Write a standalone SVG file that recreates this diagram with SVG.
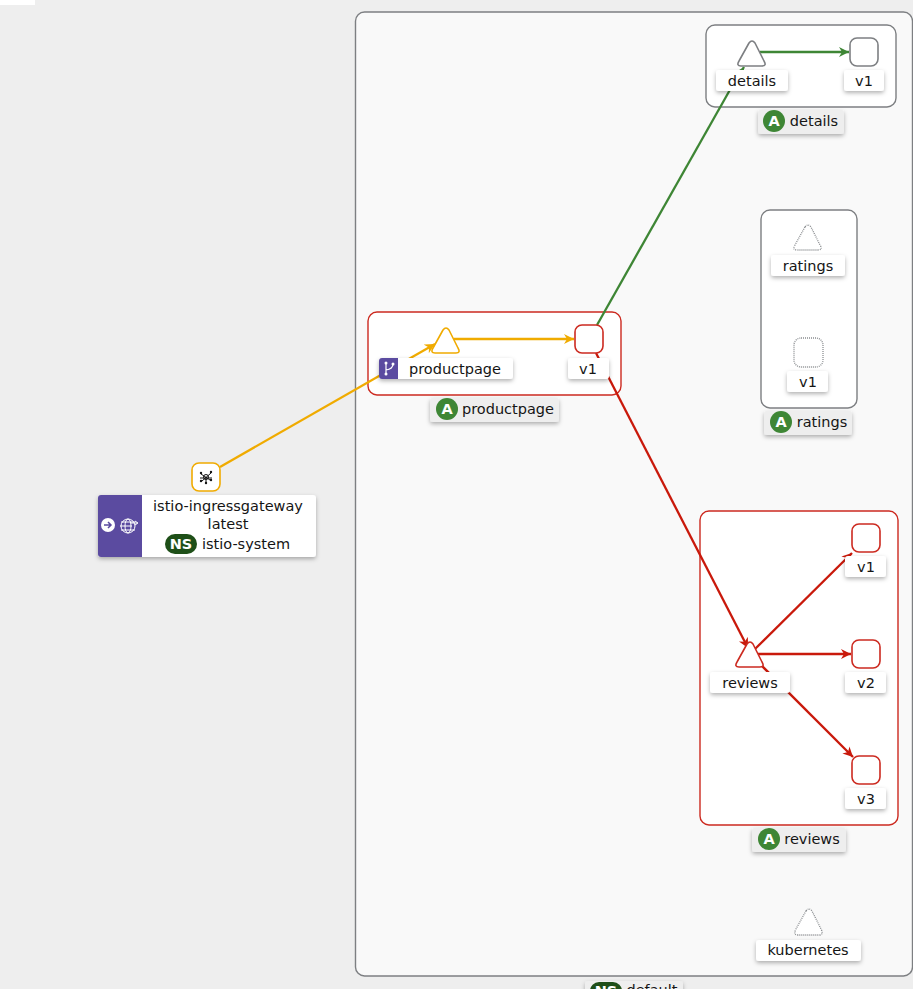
<svg xmlns="http://www.w3.org/2000/svg" width="913" height="989" viewBox="0 0 913 989">
<defs>
<style>
text{font-family:"DejaVu Sans","Liberation Sans",sans-serif;font-size:14.5px;fill:#151515;text-anchor:middle}
.grp{fill:#fff;stroke:#7d7f82;stroke-width:1.4}
.red{stroke:#cc2a20}
.lbl{fill:#fff;filter:url(#sh)}
.tag{fill:#eeeeee;filter:url(#sh)}
.n{fill:#fff;stroke:#7d7f82;stroke-width:1.6;stroke-linejoin:round}
.nr{fill:#fff;stroke:#cc2a20;stroke-width:1.6;stroke-linejoin:round}
.no{fill:#fff;stroke:#f0ab00;stroke-width:1.6;stroke-linejoin:round}
.nd{fill:#fff;stroke:#8a8d90;stroke-width:1.3;stroke-dasharray:1 1;stroke-linejoin:round}
.e{fill:none;stroke-width:2.300}
.eg{stroke:#3e8635}.er{stroke:#c9190b}.eo{stroke:#f0ab00}
.bA{fill:#3e8635}.bN{fill:#1e4f18}
.bt{fill:#fff;font-weight:bold}
</style>
<filter id="sh" x="-20%" y="-30%" width="140%" height="170%"><feDropShadow dx="0" dy="2" stdDeviation="2" flood-color="#000" flood-opacity=".3"/></filter>
<marker id="mg" markerWidth="12" markerHeight="12" refX="10" refY="5" orient="auto" markerUnits="userSpaceOnUse"><path d="M0 0L10 5L0 10L3 5Z" fill="#3e8635"/></marker>
<marker id="mr" markerWidth="12" markerHeight="12" refX="10" refY="5" orient="auto" markerUnits="userSpaceOnUse"><path d="M0 0L10 5L0 10L3 5Z" fill="#c9190b"/></marker>
<marker id="mo" markerWidth="12" markerHeight="12" refX="10" refY="5" orient="auto" markerUnits="userSpaceOnUse"><path d="M0 0L10 5L0 10L3 5Z" fill="#f0ab00"/></marker>
</defs>
<rect width="913" height="989" fill="#eeeeee"/>
<rect width="35" height="5" fill="#fff"/>
<g id="ns-default">
<rect x="355.500" y="12" width="557" height="964" rx="9" fill="#f9f9f9" stroke="#7d7f82" stroke-width="1.400"/>
<rect x="585" y="981" width="98" height="24" rx="3" class="tag"/>
<rect x="590" y="982" width="32" height="18" rx="9" class="bN"/>
<text x="606" y="996" class="bt">NS</text>
<text x="652" y="995">default</text>
</g>
<g id="app-details">
<rect x="706" y="25" width="190" height="82" rx="9" class="grp"/>
<rect x="758" y="110" width="86" height="24" rx="3" class="tag"/>
<circle cx="774" cy="121" r="11" class="bA"/><text x="774" y="126" class="bt">A</text>
<text x="814" y="126">details</text>
</g>
<g id="app-ratings">
<rect x="761" y="210" width="96" height="198" rx="9" class="grp"/>
<rect x="764" y="411" width="88" height="24" rx="3" class="tag"/>
<circle cx="781" cy="422" r="11" class="bA"/><text x="781" y="427" class="bt">A</text>
<text x="822" y="427">ratings</text>
</g>
<g id="app-productpage">
<rect x="368" y="312" width="253" height="83" rx="9" class="grp red"/>
<rect x="430" y="398" width="129" height="24" rx="3" class="tag"/>
<circle cx="447" cy="409" r="11" class="bA"/><text x="447" y="414" class="bt">A</text>
<text x="508" y="414">productpage</text>
</g>
<g id="app-reviews">
<rect x="700" y="511" width="198" height="314" rx="9" class="grp red"/>
<rect x="752" y="828" width="94" height="24" rx="3" class="tag"/>
<circle cx="769" cy="839" r="11" class="bA"/><text x="769" y="844" class="bt">A</text>
<text x="812" y="844">reviews</text>
</g>
<g id="connectors">
<path class="e eo" marker-end="url(#mo)" d="M220 467L435 344"/>
<path class="e eo" marker-end="url(#mo)" d="M454 339L574 339"/>
<path class="e eg" d="M597 325L731 88"/>
<path class="e eg" marker-end="url(#mg)" d="M731 88L744 67"/>
<path class="e eg" marker-end="url(#mg)" d="M760 52L849 52"/>
<path class="e er" marker-end="url(#mr)" d="M596 353L748 648"/>
<path class="e er" marker-end="url(#mr)" d="M755 649L852 553"/>
<path class="e er" marker-end="url(#mr)" d="M758 654L851 654"/>
<path class="e er" marker-end="url(#mr)" d="M758 662L853 757"/>
</g>
<g id="svc-details">
<path class="n" d="M749 43Q752 39 755 43L764 61Q767 66 762 66H741Q736 66 739 61Z"/>
<rect x="716" y="70" width="72" height="21" rx="3" class="lbl"/><text x="752" y="86">details</text>
</g>
<g id="wl-details-v1">
<rect x="850" y="38" width="28" height="28" rx="7" class="n"/>
<rect x="844" y="70" width="40" height="21" rx="3" class="lbl"/><text x="864" y="86">v1</text>
</g>
<g id="svc-ratings">
<path class="nd" d="M805 227Q808 223 811 227L820 245Q823 250 818 250H797Q792 250 795 245Z"/>
<rect x="771" y="255" width="74" height="21" rx="3" class="lbl"/><text x="808" y="271">ratings</text>
</g>
<g id="wl-ratings-v1">
<rect x="794" y="338" width="29" height="29" rx="7" class="nd"/>
<rect x="787" y="371" width="41" height="21" rx="3" class="lbl"/><text x="808" y="387">v1</text>
</g>
<g id="svc-productpage">
<path class="no" d="M443 330Q446 326 449 330L458 348Q461 353 456 353H435Q430 353 433 348Z"/>
<rect x="379" y="358" width="134" height="21" rx="3" class="lbl"/>
<path d="M382 358H398V379H382Q379 379 379 376V361Q379 358 382 358Z" fill="#5b4ba0"/>
<g fill="none" stroke="#fff" stroke-width="1.200"><path d="M386 363V374M393 364Q393 369 386 370"/></g>
<g fill="#fff"><circle cx="386" cy="363" r="1.500"/><circle cx="393" cy="364" r="1.500"/><circle cx="386" cy="374" r="1.500"/></g>
<text x="455" y="374">productpage</text>
</g>
<g id="wl-productpage-v1">
<rect x="575" y="325" width="28" height="28" rx="7" class="nr"/>
<rect x="568" y="358" width="41" height="21" rx="3" class="lbl"/><text x="588" y="374">v1</text>
</g>
<g id="svc-reviews">
<path class="nr" d="M747 644Q750 640 753 644L762 662Q765 667 760 667H739Q734 667 737 662Z"/>
<rect x="710" y="672" width="80" height="21" rx="3" class="lbl"/><text x="750" y="688">reviews</text>
</g>
<g id="wl-reviews-v1">
<rect x="852" y="524" width="28" height="28" rx="7" class="nr"/>
<rect x="845" y="556" width="41" height="21" rx="3" class="lbl"/><text x="866" y="572">v1</text>
</g>
<g id="wl-reviews-v2">
<rect x="852" y="640" width="28" height="28" rx="7" class="nr"/>
<rect x="845" y="672" width="41" height="21" rx="3" class="lbl"/><text x="866" y="688">v2</text>
</g>
<g id="wl-reviews-v3">
<rect x="852" y="756" width="28" height="28" rx="7" class="nr"/>
<rect x="845" y="788" width="41" height="21" rx="3" class="lbl"/><text x="866" y="804">v3</text>
</g>
<g id="svc-kubernetes">
<path class="nd" d="M806 911Q809 907 812 911L821 929Q824 935 819 935H798Q793 935 796 929Z"/>
<rect x="756" y="940" width="105" height="21" rx="3" class="lbl"/><text x="808" y="955">kubernetes</text>
</g>
<g id="gateway">
<rect x="192" y="463" width="28" height="28" rx="7" class="no"/>
<g stroke="#151515" stroke-width="1" fill="none"><circle cx="206" cy="477" r="2.500"/><path d="M201 474L210 480M211 473L202 481M206 477V483M200 478H212"/></g>
<g fill="#151515"><circle cx="201" cy="473" r="1.200"/><circle cx="211" cy="472" r="1.200"/><circle cx="201" cy="481" r="1.200"/><circle cx="211" cy="480" r="1.200"/><circle cx="206" cy="483" r="1.200"/></g>
<rect x="98" y="495" width="218" height="62" rx="3" class="lbl"/>
<path d="M101 495H142V557H101Q98 557 98 554V498Q98 495 101 495Z" fill="#5b4ba0"/>
<circle cx="108" cy="525" r="7" fill="#fff"/><path d="M104 525H111M108 522L111 525L108 528" stroke="#5b4ba0" stroke-width="1.500" fill="none"/>
<g stroke="#fff" fill="none"><circle cx="128" cy="526" r="7"/><ellipse cx="128" cy="526" rx="3" ry="7"/><path d="M120 526H132M121 522H135M121 530H135M130 523H137M135 521L138 523L135 525"/></g>
<text x="228" y="511">istio-ingressgateway</text>
<text x="228" y="529">latest</text>
<rect x="165" y="534" width="32" height="20" rx="10" class="bN"/>
<text x="181" y="549" class="bt">NS</text>
<text x="246" y="549">istio-system</text>
</g>
</svg>
